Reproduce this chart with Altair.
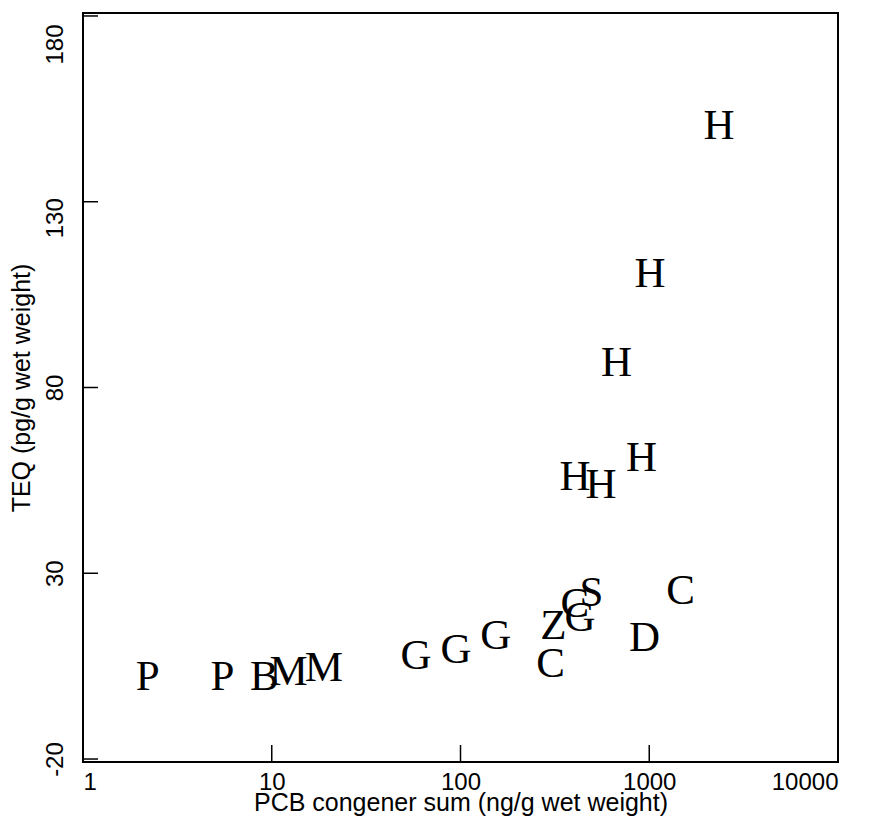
import altair as alt
import pandas as pd

# Letter labels (site codes) with PCB congener sum (x) and TEQ (y)
labels = ["P", "P", "B", "M", "M", "G", "G", "G", "Z", "C", "C", "G", "S", "D", "C",
          "H", "H", "H", "H", "H", "H"]
pcb_sum = [2.20, 5.48, 9.15, 12.3, 18.9, 58.1, 94.7, 154, 311, 300, 404, 430, 494, 944, 1464,
           2342, 1009, 671, 910, 404, 555]
teq = [2.5, 2.5, 2.6, 3.9, 5.0, 8.2, 9.8, 13.6, 16.3, 6.1, 22.2, 18.4, 25.1, 13.2, 25.7,
       151.0, 111.2, 87.0, 61.5, 56.5, 54.4]

x_ticks = [1, 10, 100, 1000, 10000]
y_ticks = [-20, 30, 80, 130, 180]

W, H = 755, 749

df = pd.DataFrame({"x": pcb_sum, "y": teq, "lab": labels})
dfx = pd.DataFrame({"x": x_ticks})
dfy = pd.DataFrame({"y": y_ticks})

xscale = alt.Scale(type="log", domain=[1, 10000], nice=False)
yscale = alt.Scale(domain=[-20.8, 180.8], nice=False, zero=False)

xaxis = alt.Axis(values=x_ticks, labelExpr="'' + datum.value", title="PCB congener sum (ng/g wet weight)",
                 grid=False, domain=False, ticks=False, labelPadding=8,
                 labelFont="Liberation Sans", labelFontSize=24, labelColor="black",
                 titleFont="Liberation Sans", titleFontSize=25, titleFontWeight="normal",
                 titleColor="black", titlePadding=-4)
yaxis = alt.Axis(values=y_ticks, labelExpr="'' + datum.value", title="TEQ (pg/g wet weight)",
                 grid=False, domain=False, ticks=False, labelPadding=16,
                 labelAngle=270, labelAlign="center", labelBaseline="bottom",
                 labelOffset={"condition": [{"test": "datum.value == 180", "value": 28},
                                            {"test": "datum.value == 130", "value": 16}],
                              "value": 0},
                 labelFont="Liberation Sans", labelFontSize=24, labelColor="black",
                 titleFont="Liberation Sans", titleFontSize=25, titleFontWeight="normal",
                 titleColor="black", titlePadding=9)

X = alt.X("x:Q", scale=xscale, axis=xaxis)
Y = alt.Y("y:Q", scale=yscale, axis=yaxis)

letters = alt.Chart(df).mark_text(
    font="Liberation Serif", fontSize=43, color="black", align="center", baseline="middle", dy=2
).encode(x=X, y=Y, text="lab:N")

xt = alt.Chart(dfx).mark_rule(color="black", strokeWidth=1.5).encode(
    x=X, y=alt.value(H), y2=alt.value(H - 17))
yt = alt.Chart(dfy).mark_rule(color="black", strokeWidth=1.5).encode(
    y=Y, x=alt.value(0), x2=alt.value(15))

chart = alt.layer(letters, xt, yt).properties(
    width=W, height=H,
    background="white",
    autosize=alt.AutoSizeParams(type="none"),
    padding={"left": 75, "top": 5, "right": 25, "bottom": 60},
).configure_view(stroke="black", strokeWidth=2)

chart.save("out.html", embed_options={"renderer": "svg", "actions": False})
